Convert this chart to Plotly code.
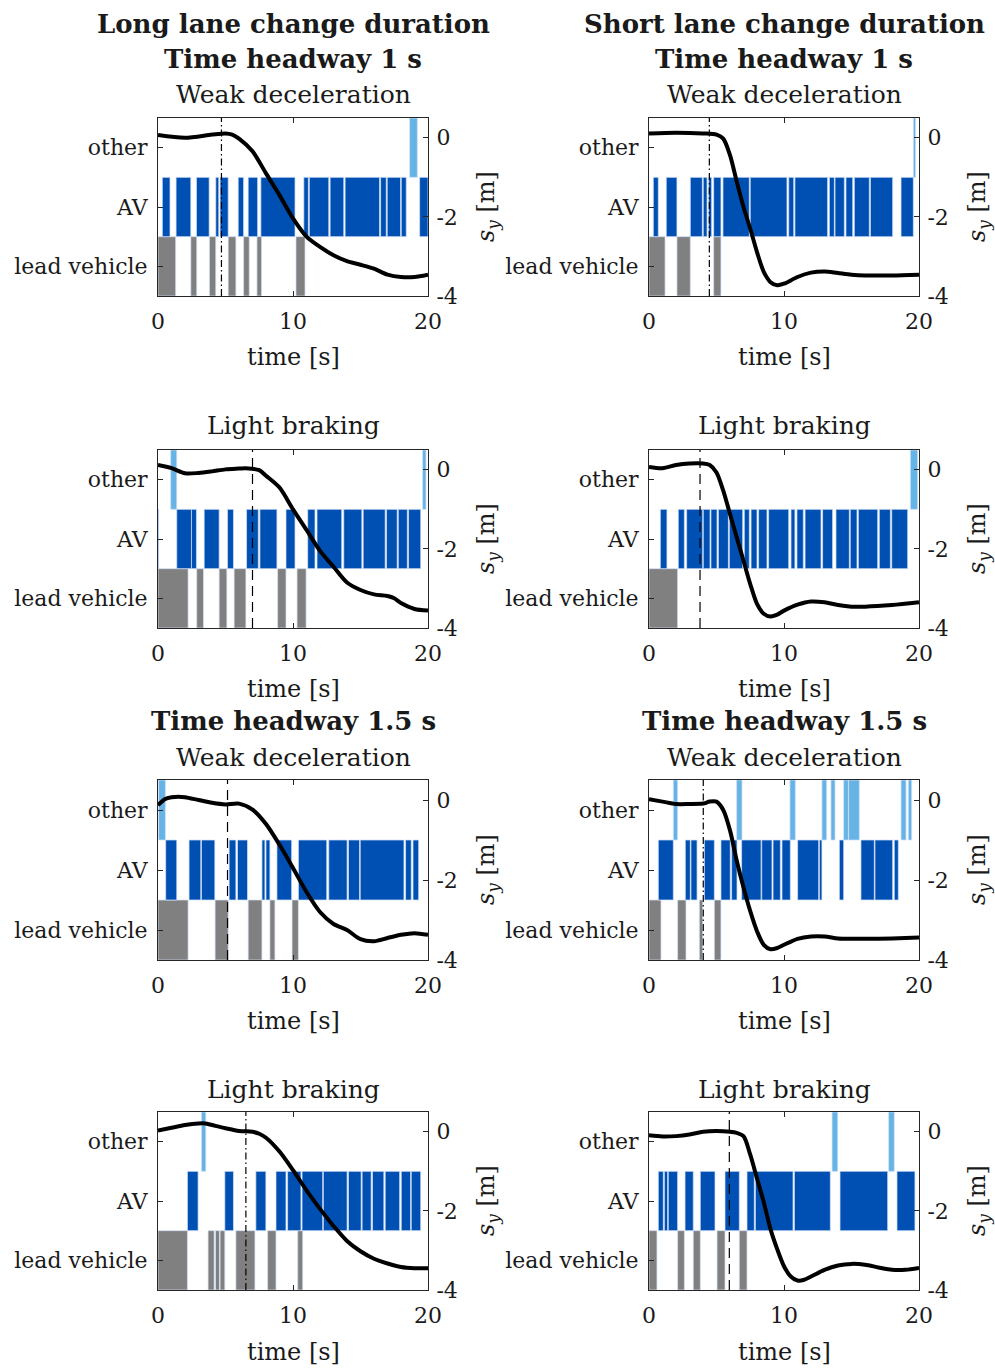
import plotly.graph_objects as go

# ---------------- data (time in s, s_y in m) ----------------
# Panel 1: Long lane change duration, time headway 1 s, weak deceleration
P1_LEAD = [(0, 1.31), (2.43, 2.87), (3.81, 4.28), (5.2, 5.77), (6.34, 6.76), (7.33, 7.67), (10.22, 10.89)]
P1_AV = [(0.32, 0.89), (1.34, 2.43), (2.85, 3.79), (4.28, 4.5), (4.6, 5.2), (5.94, 6.34), (6.68, 7.38),
         (7.62, 10.15), (10.8, 11.14), (11.21, 12.65), (12.75, 13.76), (13.86, 16.41), (16.49, 16.91),
         (16.98, 17.97), (18.02, 18.39), (19.38, 20.0)]
P1_OTHER = [(18.64, 19.21)]
P1_MARK = 4.7
P1_T = [0, 2, 4, 5, 5.5, 6, 7, 8, 9, 10, 11, 12, 13, 14, 15, 16, 17, 18, 19, 20]
P1_SY = [0.07, 0.0, 0.08, 0.11, 0.08, -0.02, -0.34, -0.9, -1.45, -2.04, -2.5, -2.76, -2.97, -3.12, -3.21,
         -3.31, -3.46, -3.52, -3.52, -3.46]

# Panel 2: Short lane change duration, time headway 1 s, weak deceleration
P2_LEAD = [(0, 1.19), (2.07, 3.06), (4.79, 5.33)]
P2_AV = [(0.32, 0.69), (1.28, 2.07), (3.06, 3.95), (4.02, 4.3), (4.42, 4.64), (4.79, 5.33), (5.48, 7.43),
         (7.5, 10.22), (10.35, 10.72), (10.81, 13.23), (13.36, 13.73), (13.78, 14.47), (14.59, 15.09),
         (15.21, 16.32), (16.4, 18.05), (18.67, 19.58)]
P2_OTHER = [(19.58, 19.75)]
P2_MARK = 4.47
P2_T = [0, 2, 4, 5, 5.5, 6, 6.5, 7, 7.5, 8, 8.5, 9, 9.5, 10, 11, 12, 13, 14, 15, 16, 18, 20]
P2_SY = [0.11, 0.13, 0.11, 0.08, -0.02, -0.44, -1.11, -1.75, -2.3, -2.89, -3.39, -3.65, -3.73, -3.69,
         -3.52, -3.41, -3.38, -3.42, -3.46, -3.48, -3.48, -3.46]

# Panel 3: Long, 1 s, light braking
P3_LEAD = [(0, 2.23), (2.87, 3.37), (4.53, 5.1), (5.64, 6.51), (8.86, 9.48), (10.3, 10.97)]
P3_AV = [(0, 0.05), (1.39, 2.48), (2.48, 2.85), (3.42, 4.53), (5.15, 5.59), (6.56, 7.43), (7.55, 8.81),
         (9.48, 10.15), (11.09, 11.63), (11.78, 13.61), (13.76, 15.1), (15.2, 16.83), (16.93, 17.72),
         (17.8, 18.47), (18.56, 19.46)]
P3_OTHER = [(0.94, 1.39), (19.6, 19.85)]
P3_MARK = 7.0
P3_T = [0, 1, 2, 3, 4, 5, 6, 6.5, 7.5, 8, 9, 10, 11, 12, 13, 14, 15, 16, 17, 17.5, 18, 19, 20]
P3_SY = [0.12, 0.04, -0.09, -0.08, -0.04, 0.01, 0.03, 0.04, -0.01, -0.15, -0.45, -1.0, -1.52, -2.05,
         -2.45, -2.85, -3.04, -3.15, -3.19, -3.25, -3.37, -3.52, -3.56]

# Panel 4: Short, 1 s, light braking
P4_LEAD = [(0, 2.12)]
P4_AV = [(0.84, 1.33), (2.17, 2.62), (2.79, 3.98), (4.02, 4.52), (4.59, 5.04), (5.14, 5.88), (5.95, 6.94),
         (7.06, 7.43), (7.56, 8.0), (8.12, 8.74), (8.86, 10.35), (10.52, 10.81), (10.96, 11.43),
         (11.56, 12.74), (12.86, 13.6), (13.85, 14.84), (14.91, 15.41), (15.51, 16.94), (17.06, 17.88),
         (17.98, 19.16)]
P4_OTHER = [(19.36, 19.9)]
P4_MARK = 3.78
P4_T = [0, 1, 2, 3, 4, 4.5, 5, 5.5, 6, 6.5, 7, 7.5, 8, 8.5, 9, 9.5, 10, 11, 12, 13, 14, 15, 16, 18, 20]
P4_SY = [0.07, 0.04, 0.12, 0.16, 0.16, 0.12, -0.07, -0.53, -1.12, -1.71, -2.3, -2.89, -3.39, -3.64,
         -3.71, -3.66, -3.56, -3.41, -3.33, -3.35, -3.42, -3.46, -3.46, -3.42, -3.35]

# Panel 5: Long, 1.5 s, weak deceleration
P5_LEAD = [(0, 2.23), (4.23, 5.2), (6.68, 7.7), (8.29, 8.66), (9.93, 10.4)]
P5_AV = [(0.57, 1.39), (2.3, 3.17), (3.22, 4.21), (5.27, 5.77), (5.89, 6.63), (7.7, 7.92), (8.0, 8.29),
         (8.81, 9.9), (10.4, 12.5), (12.65, 14.01), (14.11, 14.93), (14.98, 18.22), (18.34, 18.76),
         (18.89, 19.31)]
P5_OTHER = [(0.05, 0.55)]
P5_MARK = 5.15
P5_T = [0, 0.5, 1, 1.5, 2, 3, 4, 5, 6, 7, 8, 9, 10, 11, 12, 13, 14, 15, 16, 17, 18, 19, 20]
P5_SY = [-0.13, 0.02, 0.07, 0.08, 0.07, 0.0, -0.07, -0.11, -0.09, -0.24, -0.6, -1.12, -1.7, -2.3,
         -2.8, -3.1, -3.25, -3.48, -3.53, -3.45, -3.37, -3.33, -3.37]

# Panel 6: Short, 1.5 s, weak deceleration
P6_LEAD = [(0, 0.89), (2.12, 2.74), (3.73, 3.98), (4.84, 5.33)]
P6_AV = [(0.69, 1.8), (2.69, 3.06), (3.11, 3.56), (4.1, 4.84), (5.33, 6.02), (6.12, 6.52), (6.86, 8.3),
         (8.35, 9.11), (9.19, 9.73), (9.85, 10.47), (11.01, 12.57), (12.62, 12.81), (14.1, 14.42),
         (15.7, 16.69), (16.74, 18.05), (18.17, 18.47)]
P6_OTHER = [(1.8, 2.12), (6.49, 6.89), (10.44, 10.84), (12.81, 13.16), (13.48, 13.78), (14.42, 14.77),
            (14.79, 15.58), (18.67, 19.04), (19.21, 19.46)]
P6_MARK = 4.02
P6_T = [0, 1, 2, 3, 4, 4.5, 5, 5.5, 6, 6.5, 7, 7.5, 8, 8.5, 9, 9.5, 10, 11, 12, 13, 14, 15, 16, 18, 20]
P6_SY = [0.02, -0.04, -0.1, -0.1, -0.09, -0.04, -0.04, -0.25, -0.76, -1.52, -2.19, -2.78, -3.28, -3.62,
         -3.73, -3.7, -3.62, -3.47, -3.41, -3.41, -3.46, -3.47, -3.47, -3.46, -3.44]

# Panel 7: Long, 1.5 s, light braking
P7_LEAD = [(0, 2.18), (3.71, 4.16), (4.26, 4.55), (4.6, 4.95), (5.77, 7.18), (8.12, 8.74), (10.35, 10.72)]
P7_AV = [(2.18, 2.97), (4.95, 5.59), (7.25, 7.99), (8.74, 9.48), (9.6, 10.59), (10.67, 12.2),
         (12.25, 14.01), (14.11, 15.05), (15.12, 15.79), (15.89, 16.73), (16.83, 17.9), (18.02, 18.71),
         (18.76, 19.46)]
P7_OTHER = [(3.22, 3.54)]
P7_MARK = 6.51
P7_T = [0, 1, 2, 3, 3.5, 4, 5, 6, 7, 7.5, 8, 9, 10, 11, 12, 13, 14, 15, 16, 17, 18, 19, 20]
P7_SY = [0.03, 0.1, 0.17, 0.21, 0.21, 0.17, 0.09, 0.02, 0.0, -0.05, -0.15, -0.5, -0.97, -1.48, -1.95,
         -2.38, -2.76, -3.02, -3.21, -3.33, -3.42, -3.45, -3.45]

# Panel 8: Short, 1.5 s, light braking
P8_LEAD = [(0, 0.59), (2.12, 2.62), (3.28, 3.8), (5.04, 5.63), (6.69, 7.26)]
P8_AV = [(0.69, 1.06), (1.14, 1.38), (1.43, 2.12), (2.67, 3.28), (3.8, 4.89), (5.63, 6.69), (7.26, 7.8),
         (7.88, 10.67), (10.77, 13.43), (14.15, 17.68), (18.37, 19.7)]
P8_OTHER = [(13.56, 13.98), (17.75, 18.17)]
P8_MARK = 5.95
P8_T = [0, 1, 2, 3, 4, 5, 6, 6.5, 7, 7.5, 8, 8.5, 9, 9.5, 10, 10.5, 11, 11.5, 12, 13, 14, 15, 16, 17, 18,
        19, 20]
P8_SY = [-0.09, -0.12, -0.11, -0.07, 0.0, 0.02, 0.0, -0.03, -0.11, -0.58, -1.18, -1.78, -2.46, -2.97,
         -3.4, -3.66, -3.76, -3.74, -3.66, -3.49, -3.38, -3.34, -3.36, -3.43, -3.49, -3.49, -3.44]

CATEGORIES = ["lead vehicle", "AV", "other"]
X_TICKS = [0, 10, 20]
SY_TICKS = [-4, -2, 0]
SY_TICKTEXT = ["-4", "-2", "0"]

PANELS = [
    (P1_LEAD, P1_AV, P1_OTHER, P1_MARK, "dashdot", P1_T, P1_SY),
    (P2_LEAD, P2_AV, P2_OTHER, P2_MARK, "dashdot", P2_T, P2_SY),
    (P3_LEAD, P3_AV, P3_OTHER, P3_MARK, "dash", P3_T, P3_SY),
    (P4_LEAD, P4_AV, P4_OTHER, P4_MARK, "dash", P4_T, P4_SY),
    (P5_LEAD, P5_AV, P5_OTHER, P5_MARK, "dash", P5_T, P5_SY),
    (P6_LEAD, P6_AV, P6_OTHER, P6_MARK, "dashdot", P6_T, P6_SY),
    (P7_LEAD, P7_AV, P7_OTHER, P7_MARK, "dashdot", P7_T, P7_SY),
    (P8_LEAD, P8_AV, P8_OTHER, P8_MARK, "dash", P8_T, P8_SY),
]

# ---------------- styling ----------------
W, H = 995, 1370
FONT = "DejaVu Serif"
TXT = "#1a1a1a"
COL_LEAD = "#808080"
COL_AV = "#0050b4"
COL_OTHER = "#66b3e6"
EDGE = "rgba(210,225,245,0.9)"
AXC = "#262626"
DASHES = {"dashdot": "7px,3px,1.5px,3px", "dash": "10px,6px"}

def px(x):
    return x / W

def py(y):
    return 1 - y / H

XD = [(px(158), px(428)), (px(649), px(919))]
ROWS_PX = [(118, 296), (450, 628), (780, 960), (1112, 1290)]
YD = [(py(b), py(t)) for t, b in ROWS_PX]

fig = go.Figure()
layout = {}

for i, (lead, av, other, mark, dstyle, tt, sy) in enumerate(PANELS):
    r, c = divmod(i, 2)
    xn = "" if i == 0 else str(i + 1)
    yln = "" if i == 0 else str(2 * i + 1)
    yrn = str(2 * i + 2)
    xa, yl, yr = "x" + xn, "y" + yln, "y" + yrn

    for k, (iv, col) in enumerate([(lead, COL_LEAD), (av, COL_AV), (other, COL_OTHER)]):
        fig.add_trace(go.Bar(
            orientation="h", y=[k + 1] * len(iv), x=[e - s for s, e in iv], base=[s for s, e in iv],
            width=1, marker=dict(color=col, line=dict(color=EDGE, width=0.8)),
            xaxis=xa, yaxis=yl, showlegend=False, hoverinfo="skip"))

    fig.add_trace(go.Scatter(x=[mark, mark], y=[-4, 0.5], mode="lines",
                             line=dict(color="black", width=1.2, dash=DASHES[dstyle]),
                             xaxis=xa, yaxis=yr, showlegend=False))
    fig.add_trace(go.Scatter(x=tt, y=sy, mode="lines",
                             line=dict(color="black", width=4, shape="spline", smoothing=0.8),
                             xaxis=xa, yaxis=yr, showlegend=False))

    common = dict(ticks="inside", ticklen=5, tickcolor=AXC, showline=True, linecolor=AXC, linewidth=1,
                  showgrid=False, zeroline=False, automargin=False,
                  tickfont=dict(family=FONT, size=22, color=TXT))
    layout["xaxis" + xn] = dict(domain=XD[c], anchor=yl, range=[0, 20], tickvals=X_TICKS,
                                mirror="ticks", ticklabelstandoff=6, **common)
    layout["yaxis" + yln] = dict(domain=YD[r], anchor=xa, range=[0.5, 3.5], tickvals=[1, 2, 3],
                                 ticktext=CATEGORIES, ticklabelstandoff=5, **common)
    layout["yaxis" + yrn] = dict(overlaying=yl, anchor=xa, side="right", range=[-4, 0.5],
                                 tickvals=SY_TICKS, ticktext=SY_TICKTEXT, ticklabelstandoff=3, **common)

ann = []
def txt(x, y, s, size, bold=False, angle=0):
    ann.append(dict(x=px(x), y=py(y), xref="paper", yref="paper", text=("<b>%s</b>" % s) if bold else s,
                    showarrow=False, xanchor="center", yanchor="middle", textangle=angle,
                    font=dict(family=FONT, size=size, color=TXT)))

cx = [293, 784]
txt(cx[0], 24, "Long lane change duration", 26, True)
txt(cx[1], 24, "Short lane change duration", 26, True)
for x in cx:
    txt(x, 59, "Time headway 1 s", 26, True)
    txt(x, 95, "Weak deceleration", 25)
    txt(x, 425, "Light braking", 25)
    txt(x, 721, "Time headway 1.5 s", 26, True)
    txt(x, 757, "Weak deceleration", 25)
    txt(x, 1089, "Light braking", 25)
    for ylab in (357, 689, 1021, 1352):
        txt(x, ylab, "time [s]", 24)
for xr in (487, 978):
    for t, b in ROWS_PX:
        txt(xr, (t + b) / 2, "<i>s</i><sub><i>y</i></sub> [m]", 24, angle=-90)

layout.update(width=W, height=H, autosize=False, margin=dict(l=0, r=0, t=0, b=0, pad=0),
              paper_bgcolor="white", plot_bgcolor="white", barmode="overlay", bargap=0,
              annotations=ann, showlegend=False, hovermode=False)
fig.update_layout(**layout)
fig.write_html("out.html", config={"displayModeBar": False, "staticPlot": True},
               post_script="document.body.style.margin='0';document.body.style.overflow='hidden';")
